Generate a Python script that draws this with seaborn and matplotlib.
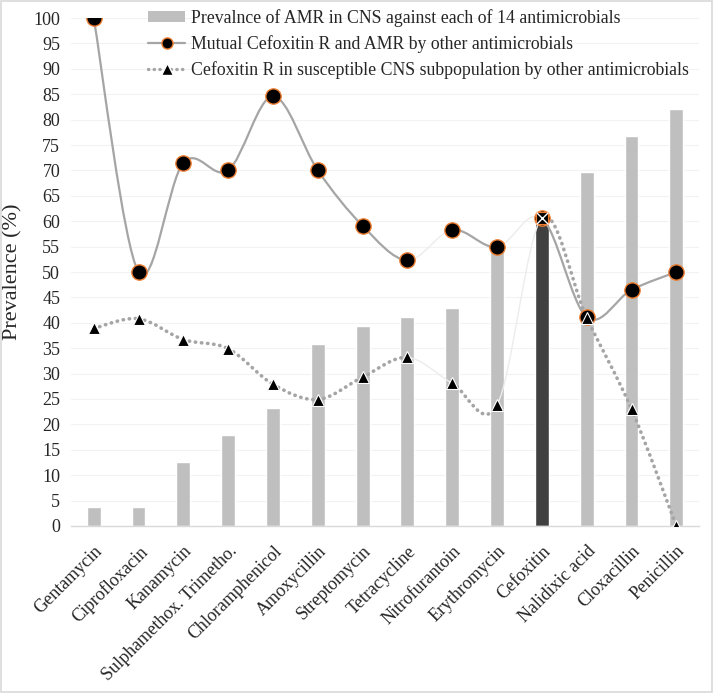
import numpy as np
import pandas as pd
import matplotlib
matplotlib.use("Agg")
import matplotlib.pyplot as plt
import seaborn as sns
from matplotlib.path import Path
from matplotlib.patches import PathPatch, Patch, Rectangle
from matplotlib.lines import Line2D

antimicrobials = ["Gentamycin", "Ciprofloxacin", "Kanamycin", "Sulphamethox. Trimetho.",
                  "Chloramphenicol", "Amoxycillin", "Streptomycin", "Tetracycline",
                  "Nitrofurantoin", "Erythromycin", "Cefoxitin", "Nalidixic acid",
                  "Cloxacillin", "Penicillin"]
prevalence = [3.7, 3.7, 12.6, 17.9, 23.2, 35.8, 39.3, 41.1, 42.9, 55.0, 60.6, 69.7, 76.8, 82.1]
mutual_cefox = [100, 50, 71.5, 70, 84.6, 70, 59.1, 52.3, 58.3, 54.9, 60.6, 41.1, 46.5, 50]
cefox_suscept = [38.9, 40.8, 36.7, 34.9, 27.9, 24.9, 29.3, 33.2, 28.1, 23.8, 60.6, 41.0, 23.0, 0]

# segments Excel drew with a faint colour (start index of segment)
faint_segments = [7, 9]

bar_label = "Prevalnce of AMR in CNS against each of 14 antimicrobials"
mutual_label = "Mutual Cefoxitin R and AMR by other antimicrobials"
suscept_label = "Cefoxitin R in susceptible CNS subpopulation by other antimicrobials"

sns.set_style("white")
plt.rcParams["font.family"] = ["Liberation Serif", "DejaVu Serif"]

df = pd.DataFrame({"drug": antimicrobials, "prev": prevalence})
bar_colors = ["#404040" if d == "Cefoxitin" else "#bfbfbf" for d in antimicrobials]

fig = plt.figure(figsize=(7.13, 6.93), dpi=100)
ax = fig.add_axes([0.100, 0.241, 0.880, 0.733])

sns.barplot(data=df, x="drug", y="prev", hue="drug", palette=bar_colors,
            width=0.31, legend=False, ax=ax, saturation=1, zorder=2)


def smooth_segments(ax, xs, ys, color, lw, ls, faint):
    # Excel-style smoothed line, one bezier per segment so each can be styled
    n = len(xs)
    pts = np.column_stack([xs, ys]).astype(float)
    for i in range(n - 1):
        p0 = pts[max(i - 1, 0)]
        p1 = pts[i]
        p2 = pts[i + 1]
        p3 = pts[min(i + 2, n - 1)]
        c1 = p1 + (p2 - p0) / 6.0
        c2 = p2 - (p3 - p1) / 6.0
        path = Path([p1, c1, c2, p2], [Path.MOVETO, Path.CURVE4, Path.CURVE4, Path.CURVE4])
        if i in faint:
            patch = PathPatch(path, fill=False, edgecolor="#ececec", lw=1.0, zorder=3)
        else:
            patch = PathPatch(path, fill=False, edgecolor=color, lw=lw, linestyle=ls,
                              capstyle="round", zorder=3)
        ax.add_patch(patch)


xpos = np.arange(len(antimicrobials))
smooth_segments(ax, xpos, mutual_cefox, "#a5a5a5", 1.6, "-", faint_segments)
smooth_segments(ax, xpos, cefox_suscept, "#a5a5a5", 2.6, (0, (0.1, 1.6)), faint_segments)

ax.plot(xpos, mutual_cefox, ls="none", marker="o", ms=11, mfc="black",
        mec="#ed7d31", mew=1.0, zorder=4)
ax.plot(xpos, cefox_suscept, ls="none", marker="^", ms=8.5, mfc="black",
        mec="white", mew=0.8, zorder=5)

# cefoxitin itself: square marker with cross
cef = antimicrobials.index("Cefoxitin")
ax.plot([cef], [mutual_cefox[cef]], marker="s", ms=9, mfc="black", mec="#ed7d31",
        mew=0.8, zorder=6)
ax.plot([cef], [mutual_cefox[cef]], marker="x", ms=8, mec="white", mew=1.0, zorder=7)

ax.set_xlim(-0.5, 13.5)
ax.set_ylim(0, 100)
ax.set_yticks(np.arange(0, 101, 5))
ax.yaxis.grid(True, color="#f2f2f2", lw=0.8, zorder=0)
ax.set_axisbelow(True)
ax.set_xlabel("")
ax.set_ylabel("Prevalence (%)", fontsize=16, labelpad=8)
ax.tick_params(axis="y", labelsize=13, length=0, pad=8)
ax.tick_params(axis="x", labelsize=13, length=0, pad=12)
ax.set_xticks(xpos)
ax.set_xticklabels(antimicrobials, rotation=45, ha="right", rotation_mode="anchor")
for side in ["left", "right", "top"]:
    ax.spines[side].set_visible(False)
ax.spines["bottom"].set_color("#d9d9d9")
ax.spines["bottom"].set_linewidth(1.0)

handles = [
    Patch(facecolor="#bfbfbf", edgecolor="none"),
    Line2D([], [], color="#a5a5a5", lw=1.6, marker="o", ms=8, mfc="black", mec="#ed7d31"),
    Line2D([], [], color="#a5a5a5", lw=2.4, ls=(0, (0.1, 1.6)), dash_capstyle="round",
           marker="^", ms=8, mfc="black", mec="white"),
]
leg = fig.legend(handles, [bar_label, mutual_label, suscept_label],
                 loc="upper left", bbox_to_anchor=(0.195, 1.0), frameon=False,
                 fontsize=12.8, handlelength=2.1, handleheight=0.5, handletextpad=0.3,
                 labelspacing=0.45, borderaxespad=0.1)

fig.patches.append(Rectangle((0.001, 0.001), 0.997, 0.997, transform=fig.transFigure,
                             fill=False, edgecolor="#d9d9d9", lw=1.2))

fig.savefig("out.png", dpi=100)
